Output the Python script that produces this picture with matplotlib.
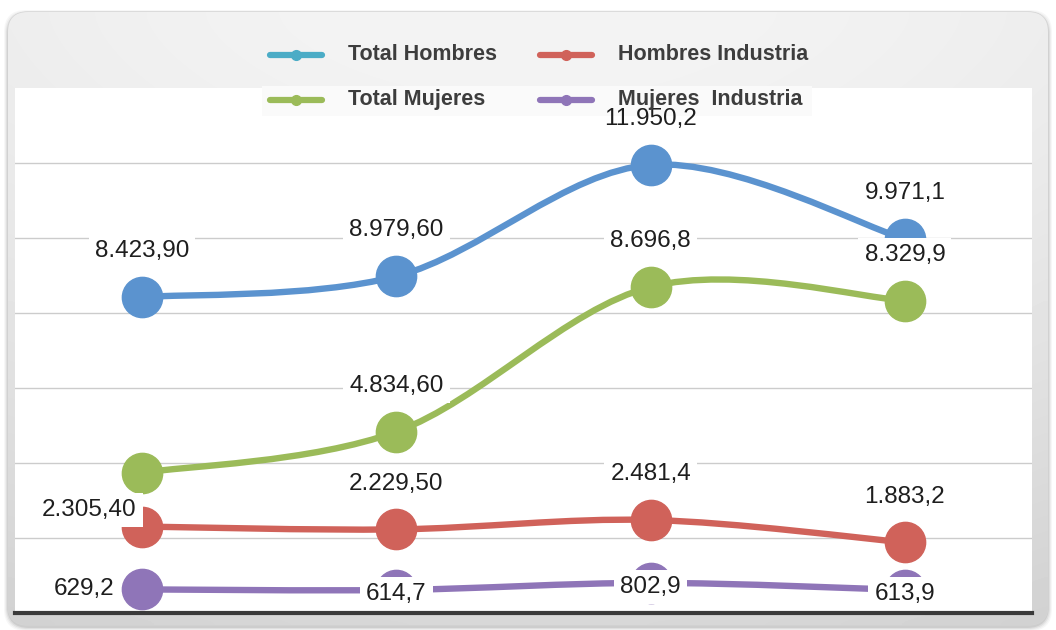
import numpy as np
import matplotlib.pyplot as plt
from matplotlib.path import Path
from matplotlib.patches import PathPatch, FancyBboxPatch, Rectangle
from matplotlib.lines import Line2D

# data (x = position of each period)
periods = [0, 1, 2, 3]
total_hombres = [8423.9, 8979.6, 11950.2, 9971.1]
total_mujeres = [3740.0, 4834.6, 8696.8, 8329.9]
hombres_industria = [2305.4, 2229.5, 2481.4, 1883.2]
mujeres_industria = [629.2, 614.7, 802.9, 613.9]

labels_th = ['8.423,90', '8.979,60', '11.950,2', '9.971,1']
labels_tm = ['', '4.834,60', '8.696,8', '8.329,9']
labels_hi = ['2.305,40', '2.229,50', '2.481,4', '1.883,2']
labels_mi = ['629,2', '614,7', '802,9', '613,9']

legend_names = ['Total Hombres', 'Hombres Industria', 'Total Mujeres', 'Mujeres  Industria']


def smooth_path(x, y):
    # catmull-rom style curve through the points, as bezier segments
    x = np.asarray(x, float)
    y = np.asarray(y, float)
    px = np.concatenate([[x[0]], x, [x[-1]]])
    py = np.concatenate([[y[0]], y, [y[-1]]])
    verts = [(x[0], y[0])]
    codes = [Path.MOVETO]
    for i in range(len(x) - 1):
        c1 = (px[i + 1] + (px[i + 2] - px[i]) / 6, py[i + 1] + (py[i + 2] - py[i]) / 6)
        c2 = (px[i + 2] - (px[i + 3] - px[i + 1]) / 6, py[i + 2] - (py[i + 3] - py[i + 1]) / 6)
        verts += [c1, c2, (x[i + 1], y[i + 1])]
        codes += [Path.CURVE4] * 3
    return Path(verts, codes)


fig = plt.figure(figsize=(10.56, 6.3), dpi=100)
fig.patch.set_facecolor('white')

# background frame in pixel coords
bg = fig.add_axes([0, 0, 1, 1])
bg.axis('off')

for k, a in enumerate([0.03, 0.04, 0.06, 0.08]):
    d = 4 - k
    bg.add_patch(FancyBboxPatch((8 - d, 12 - d + 2), 1040 + 2 * d, 613 + 2 * d,
                                boxstyle='round,pad=0,rounding_size=22',
                                facecolor='black', edgecolor='none', alpha=a))
frame = FancyBboxPatch((8, 12), 1040, 613, boxstyle='round,pad=0,rounding_size=20',
                       facecolor='#e8e8e8', edgecolor='#d4d4d4', lw=1, zorder=1)
bg.add_patch(frame)
gx = np.linspace(-1, 1, 200)
gy = np.linspace(0, 1, 100)
grad = 0.955 - 0.025 * np.abs(gx)[None, :] ** 2 - 0.11 * gy[:, None] ** 1.5
im = bg.imshow(grad, extent=(8, 1048, 625, 12), cmap='gray', vmin=0, vmax=1,
               aspect='auto', interpolation='bicubic', zorder=2)
im.set_clip_path(frame)
# legend backing for the second row
bg.add_patch(Rectangle((262, 86), 550, 30, facecolor='#fafafa', edgecolor='none', zorder=3))
bg.set_xlim(0, 1056)
bg.set_ylim(630, 0)

# plot area
ax = fig.add_axes([15 / 1056, 1 - 613 / 630, (1032 - 15) / 1056, (613 - 88) / 630])
ax.set_facecolor('white')
ax.patch.set_alpha(0)
ax.set_xlim(-0.5, 3.5)
ax.set_ylim(0, 14000)
ax.set_yticks([2000, 4000, 6000, 8000, 10000, 12000])
ax.set_xticks([])
ax.grid(axis='y', color='#cccccc', lw=1)
ax.set_axisbelow(True)
ax.tick_params(left=False, labelleft=False)
for s in ['top', 'left', 'right']:
    ax.spines[s].set_visible(False)
ax.spines['bottom'].set_color('#3a3a3a')
ax.spines['bottom'].set_linewidth(3)
ax.spines['bottom'].set_zorder(20)
# white plot background drawn in the bg axes so the legend backing can sit on it
bg.add_patch(Rectangle((15, 88), 1017, 525, facecolor='white', edgecolor='none', zorder=2.5))

series = [
    (total_hombres, labels_th, '#5b93cf'),
    (total_mujeres, labels_tm, '#9bbb59'),
    (hombres_industria, labels_hi, '#d0625a'),
    (mujeres_industria, labels_mi, '#8f75b8'),
]

for vals, labs, col in series:
    ax.add_patch(PathPatch(smooth_path(periods, vals), facecolor='none', edgecolor=col,
                           lw=4.6, zorder=3, capstyle='round'))
    ax.plot(periods, vals, 'o', color=col, markersize=29, zorder=4, clip_on=False)

label_font = dict(fontsize=17.5, color='#1e1e1e', family='Liberation Sans')
box = dict(boxstyle='square,pad=0.25', facecolor='white', edgecolor='none')

for i, (vals, labs, col) in enumerate(series[:3]):
    for j, (x, v, t) in enumerate(zip(periods, vals, labs)):
        if not t:
            continue
        off = (0, 33)
        if i == 2 and j == 0:
            off = (-38, 12)
        b = box
        if i == 0 and j == 2:
            b = None
        ax.annotate(t, (x, v), xytext=off, textcoords='offset points', ha='center', va='center',
                    bbox=b, zorder=10 + i, annotation_clip=False, **label_font)

for j, (x, v, t) in enumerate(zip(periods, mujeres_industria, labels_mi)):
    off = (-42, 0) if j == 0 else (0, -3)
    ax.annotate(t, (x, v), xytext=off, textcoords='offset points', ha='center', va='center',
                bbox=box, zorder=14, annotation_clip=False, **label_font)

# legend on top (drawn by hand to match placement)
top = fig.add_axes([0, 0, 1, 1])
top.set_xlim(0, 1056)
top.set_ylim(630, 0)
top.axis('off')
top.patch.set_alpha(0)
leg_colors = ['#4bacc6', '#d0625a', '#9bbb59', '#8f75b8']
leg_pos = [(270, 55), (540, 55), (270, 100), (540, 100)]
for name, col, (lx, ly) in zip(legend_names, leg_colors, leg_pos):
    top.add_line(Line2D([lx, lx + 52], [ly, ly], color=col, lw=4.5, solid_capstyle='round', zorder=2))
    top.add_line(Line2D([lx + 26], [ly], color=col, marker='o', markersize=7, zorder=2))
    top.text(lx + 78, ly, name, fontsize=15.5, fontweight='bold', color='#3d3d3d',
             family='Liberation Sans', va='center', ha='left', zorder=3)

fig.savefig('out.png', dpi=100)
